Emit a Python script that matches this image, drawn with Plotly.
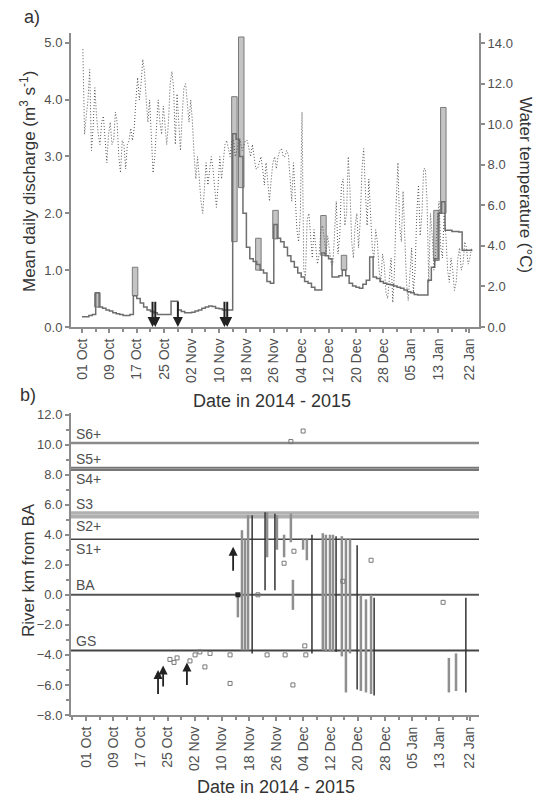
import plotly.graph_objects as go
import pandas as pd

# ---------------- data ----------------
start = pd.Timestamp("2014-10-01")

# panel a: mean daily discharge (m3/s), one value per day from 01 Oct 2014
discharge = [0.18, 0.18, 0.2, 0.22, 0.6, 0.35, 0.33, 0.3, 0.28, 0.25,
             0.23, 0.22, 0.2, 0.2, 0.22, 0.55, 0.5, 0.42, 0.35, 0.3,
             0.27, 0.25, 0.22, 0.22, 0.22, 0.22, 0.45, 0.45, 0.3, 0.27,
             0.25, 0.25, 0.26, 0.28, 0.3, 0.33, 0.35, 0.37, 0.36, 0.33,
             0.32, 0.3, 0.3, 0.3, 3.4, 3.3, 3.0, 2.0, 1.4, 1.2,
             1.15, 1.1, 1.0, 0.95, 0.8, 0.77, 1.8, 1.56, 1.5, 1.4,
             1.25, 1.15, 1.05, 0.95, 0.88, 0.8, 0.77, 0.7, 0.65, 0.65,
             1.3, 1.25, 1.2, 0.88, 0.88, 0.9, 1.0, 0.9, 0.77, 0.72,
             0.7, 0.68, 0.75, 0.82, 1.23, 0.88, 0.85, 0.8, 0.77, 0.75,
             0.74, 0.72, 0.7, 0.68, 0.65, 0.62, 0.6, 0.57, 0.56, 0.56,
             0.56, 0.82, 1.05, 1.2, 2.0, 2.2, 1.7, 1.7, 1.68, 1.68,
             1.67, 1.35, 1.35, 1.35]

# daily discharge peaks (bars): day index, low, high
peak_day = [4, 15, 44, 46, 51, 56, 70, 76, 103, 105]
peak_low = [0.35, 0.55, 1.5, 2.45, 1.0, 1.55, 1.26, 1.0, 1.17, 2.0]
peak_high = [0.6, 1.05, 4.05, 5.1, 1.56, 2.05, 1.96, 1.26, 2.05, 3.86]

# water temperature daily min / max (deg C)
temp_min = [9.5, 10.4, 8.7, 9.8, 9.5, 9.0, 9.2, 8.1, 9.0, 9.2,
            8.4, 7.6, 7.8, 9.0, 9.2, 9.8, 11.2, 12.0, 11.2, 10.1,
            7.6, 8.4, 10.1, 9.5, 9.0, 10.1, 11.8, 9.0, 8.7, 10.4,
            10.9, 10.1, 8.4, 7.3, 6.2, 5.6, 7.0, 7.6, 6.7, 5.9,
            7.3, 8.1, 8.7, 8.4, 8.4, 8.7, 8.7, 9.0, 8.7, 8.4,
            7.8, 7.8, 7.8, 7.0, 6.2, 7.3, 7.8, 8.4, 8.4, 8.4,
            7.3, 6.2, 4.8, 4.2, 2.8, 2.5, 4.2, 3.4, 3.1, 3.6,
            4.2, 3.6, 3.1, 3.1, 3.6, 4.5, 5.0, 5.6, 4.2, 3.4,
            3.9, 5.3, 6.7, 5.0, 3.9, 3.4, 2.8, 2.2, 1.7, 1.4,
            1.2, 2.8, 5.0, 4.2, 2.2, 1.3, 1.7, 2.8, 4.5, 5.6,
            6.2, 2.2, 2.8, 3.6, 3.9, 3.4, 2.8, 2.2, 1.8, 2.2,
            2.8, 3.1, 3.1, 3.4]
temp_max = [13.7, 11.2, 12.7, 11.8, 10.4, 10.1, 10.4, 9.5, 10.1, 10.6,
            10.1, 9.2, 9.0, 9.2, 9.8, 11.2, 12.3, 13.2, 12.6, 11.2,
            9.2, 10.1, 11.2, 10.9, 10.1, 12.0, 12.6, 11.5, 10.1, 11.8,
            12.0, 11.2, 10.1, 8.4, 7.3, 7.0, 8.1, 8.4, 7.8, 7.0,
            8.4, 9.0, 9.2, 9.2, 9.2, 9.2, 9.2, 9.2, 9.2, 9.0,
            8.4, 8.1, 8.4, 8.1, 7.0, 8.1, 8.4, 8.7, 8.8, 8.7,
            8.5, 8.1, 6.4, 5.6, 10.6, 5.3, 5.6, 4.8, 3.9, 4.8,
            5.0, 4.5, 3.9, 4.8, 6.2, 7.0, 7.3, 8.4, 6.7, 5.0,
            5.6, 7.8, 8.8, 7.3, 5.6, 4.8, 4.2, 3.6, 3.1, 2.5,
            3.4, 6.2, 8.1, 6.7, 4.5, 2.8, 3.9, 5.6, 7.0, 7.8,
            7.8, 5.6, 4.5, 5.3, 6.2, 5.6, 4.5, 3.4, 2.8, 3.4,
            3.9, 4.2, 3.9, 3.9]

# fish releases (days after 01 Oct), arrows in panel a
release_day = [20.6, 21.4, 28.0, 41.6, 42.4]

# panel b: detected ranges (river km from BA)
track_day = [44.7, 45.9, 46.8, 47.7, 48.9, 52.7, 53.3, 55.6, 56.2, 58.3,
             60.3, 60.9, 63.9, 65.0, 66.5, 69.7, 70.6, 71.8, 72.7, 73.6,
             75.3, 76.5, 77.7, 79.8, 80.9, 82.4, 83.9, 84.8, 106.8, 108.9,
             111.8]
track_low = [-1.5, -3.7, -3.7, -3.7, -3.9, 0.3, 2.5, 0.3, 3.0, 2.5,
             3.5, -1.0, 3.0, 2.3, -3.9, -3.7, -3.8, -3.8, -3.8, -3.8,
             -4.1, -6.5, -3.9, -6.3, -6.4, -6.5, -6.6, -6.7, -6.5, -6.4,
             -6.5]
track_high = [0.0, 4.3, 3.7, 5.3, 5.3, 5.5, 5.5, 5.4, 5.3, 4.0,
              5.4, 1.0, 3.7, 3.7, 4.0, 4.1, 4.0, 4.0, 4.0, 3.9,
              3.9, 3.7, 3.7, 3.3, 0.0, -0.3, 0.0, -0.2, -4.2, -3.9,
              -0.2]
track_dark = [0, 0, 0, 0, 1, 1, 0, 1, 0, 0,
              0, 0, 0, 0, 1, 0, 0, 0, 0, 1,
              0, 0, 0, 1, 0, 0, 0, 1, 0, 0,
              1]

# single detections
obs_day = [75.6, 83.9, 61.2, 58.3, 105.1, 63.9, 60.3, 42.4, 53.3, 50.6,
           58.6, 64.7, 64.4, 24.7, 25.9, 26.8, 30.6, 32.1, 33.5, 35.0,
           36.5, 60.9, 42.4]
obs_km = [0.9, 2.3, 2.9, 2.1, -0.5, 10.9, 10.2, -4.0, -4.0, 0.0,
          -4.0, -4.0, -3.4, -4.3, -4.5, -4.2, -4.4, -4.0, -3.8, -4.8,
          -3.9, -6.0, -5.9]

# upstream movements (arrows in panel b)
move_day = [21.2, 22.7, 29.7, 43.3]
move_from = [-6.7, -6.2, -6.1, 1.5]
move_to = [-5.0, -4.7, -4.5, 3.2]

# stations
station_name = ["S6+", "S5+", "S4+", "S3", "S2+", "S1+", "BA", "GS"]
station_km = [10.1, 8.45, 8.3, 5.45, 5.2, 3.7, 0.0, -3.7]

tick_dates = ["2014-10-01", "2014-10-09", "2014-10-17", "2014-10-25", "2014-11-02",
              "2014-11-10", "2014-11-18", "2014-11-26", "2014-12-04", "2014-12-12",
              "2014-12-20", "2014-12-28", "2015-01-05", "2015-01-13", "2015-01-22"]
tick_text = ["01 Oct", "09 Oct", "17 Oct", "25 Oct", "02 Nov", "10 Nov", "18 Nov",
             "26 Nov", "04 Dec", "12 Dec", "20 Dec", "28 Dec", "05 Jan", "13 Jan", "22 Jan"]

# ---------------- styling helpers ----------------
FONT = "Liberation Sans, Arial, sans-serif"
AX = "#8c8c8c"
TXT = "#505050"
DAY = pd.Timedelta(days=1)


def day(d):
    return start + pd.to_timedelta(d, unit="D")


dates = [day(i) for i in range(len(discharge))]

fig = go.Figure()

# temperature (dotted zig-zag between daily min and max)
tx, ty = [], []
for i, (lo, hi) in enumerate(zip(temp_min, temp_max)):
    a, b = (hi, lo) if i % 2 == 0 else (lo, hi)
    tx += [dates[i] + pd.Timedelta(hours=6), dates[i] + pd.Timedelta(hours=18)]
    ty += [a, b]
fig.add_trace(go.Scatter(x=tx, y=ty, mode="lines", xaxis="x", yaxis="y2",
                         line=dict(color="#555555", width=1, dash="1px,2px"),
                         showlegend=False, hoverinfo="skip"))

# discharge peaks as bars
fig.add_trace(go.Bar(x=[day(d) + pd.Timedelta(hours=12) for d in peak_day],
                     y=[h - l for h, l in zip(peak_high, peak_low)],
                     base=peak_low, width=1.6 * 86400000, xaxis="x", yaxis="y",
                     marker=dict(color="#c4c4c4", line=dict(color="#7a7a7a", width=1)),
                     showlegend=False))

# discharge step line
fig.add_trace(go.Scatter(x=dates + [dates[-1] + DAY], y=discharge + [discharge[-1]],
                         mode="lines", line=dict(color="#6e6e6e", width=1.5, shape="hv"),
                         xaxis="x", yaxis="y", showlegend=False))

# panel b tracks
for dark in (0, 1):
    xs, ys = [], []
    for d, lo, hi, k in zip(track_day, track_low, track_high, track_dark):
        if k == dark:
            xs += [day(d), day(d), None]
            ys += [lo, hi, None]
    fig.add_trace(go.Scatter(x=xs, y=ys, mode="lines", xaxis="x2", yaxis="y3",
                             line=dict(color="#333333" if dark else "#8f8f8f",
                                       width=1.5 if dark else 2.5),
                             showlegend=False))

fig.add_trace(go.Scatter(x=[day(d) for d in obs_day], y=obs_km, mode="markers",
                         xaxis="x2", yaxis="y3",
                         marker=dict(symbol="square-open", size=4, color="#777777",
                                     line=dict(width=1)),
                         showlegend=False))
fig.add_trace(go.Scatter(x=[day(track_day[0])], y=[0.0], mode="markers",
                         xaxis="x2", yaxis="y3",
                         marker=dict(symbol="square", size=5, color="#222222"),
                         showlegend=False))

# station lines
st_style = [("#8a8a8a", 2.5), ("#777777", 2), ("#777777", 2), ("#b0b0b0", 3.5),
            ("#b0b0b0", 3.5), ("#444444", 1.5), ("#555555", 2), ("#444444", 2)]
st_side = [1, 1, -1, 1, -1, -1, 1, 1]
shapes = []
annotations = []
for name, km, (col, w), side in zip(station_name, station_km, st_style, st_side):
    shapes.append(dict(type="line", xref="x2 domain", yref="y3", x0=0, x1=1,
                       y0=km, y1=km, line=dict(color=col, width=w), layer="below"))
    annotations.append(dict(text=name, xref="x2 domain", yref="y3", x=0.008,
                            y=km + 0.62 * side, xanchor="left", yanchor="middle",
                            showarrow=False, font=dict(size=14, color=TXT, family=FONT)))

# release arrows (panel a)
for d in release_day:
    annotations.append(dict(x=day(d), y=0.0, ax=day(d), ay=0.47, xref="x", yref="y",
                            axref="x", ayref="y", showarrow=True, arrowhead=2,
                            arrowsize=1, arrowwidth=2, arrowcolor="#222222", text=""))
# movement arrows (panel b)
for d, a, b in zip(move_day, move_from, move_to):
    annotations.append(dict(x=day(d), y=b, ax=day(d), ay=a, xref="x2", yref="y3",
                            axref="x2", ayref="y3", showarrow=True, arrowhead=2,
                            arrowsize=1, arrowwidth=1.8, arrowcolor="#222222", text=""))

# titles
L, R, T, B = 71, 63, 33, 83
W, H = 542, 798
pw, ph = W - L - R, H - T - B


def px(x):
    return (x - L) / pw


def py(y):
    return (H - B - y) / ph


def lab(text, x, y, size=18, angle=0, color="#333333"):
    annotations.append(dict(text=text, xref="paper", yref="paper", x=px(x), y=py(y),
                            xanchor="center", yanchor="middle", showarrow=False,
                            textangle=angle, font=dict(size=size, color=color, family=FONT)))


lab("a)", 32, 17, 18)
lab("b)", 28, 395, 18)
lab("Mean daily discharge (m<sup>3</sup> s<sup>-1</sup>)", 28, 182, 17, -90)
lab("Water temperature (°C)", 526, 185, 17, 90)
lab("Date in 2014 - 2015", 272, 401, 18)
lab("River km from BA", 28, 570, 17, -90)
lab("Date in 2014 - 2015", 276, 787, 18)

axis_common = dict(showline=True, linecolor=AX, linewidth=2, ticks="outside", ticklen=4,
                   tickwidth=1.5, tickcolor=AX, showgrid=False, zeroline=False,
                   tickfont=dict(size=13, color=TXT, family=FONT))
xcommon = dict(axis_common, type="date", tickmode="array", tickvals=tick_dates,
               ticktext=tick_text, tickangle=-90,
               tickfont=dict(size=14, color=TXT, family=FONT),
               minor=dict(ticks="outside", ticklen=3, tickcolor=AX,
                          dtick=4 * 86400000, tick0="2014-10-01"))

fig.update_layout(
    width=W, height=H, margin=dict(l=L, r=R, t=T, b=B),
    paper_bgcolor="white", plot_bgcolor="white",
    barmode="overlay", showlegend=False,
    xaxis=dict(xcommon, domain=[0, 1], anchor="y",
               range=["2014-09-27 19:00", "2015-01-24 22:00"]),
    yaxis=dict(axis_common, domain=[0.569, 1], anchor="x", range=[0, 5.17],
               tickvals=[0, 1, 2, 3, 4, 5], tickformat=".1f"),
    yaxis2=dict(axis_common, overlaying="y", side="right", anchor="x", range=[0, 14.5],
                tickvals=[0, 2, 4, 6, 8, 10, 12, 14], tickformat=".1f"),
    xaxis2=dict(xcommon, domain=[0, 1], anchor="y3",
                range=["2014-09-26 14:00", "2015-01-24 16:00"]),
    yaxis3=dict(axis_common, domain=[0, 0.4428], anchor="x2", range=[-8, 12.1],
                tickvals=list(range(-8, 13, 2)), tickformat=".1f",
                minor=dict(ticks="outside", ticklen=3, tickcolor=AX, dtick=1)),
    shapes=shapes, annotations=annotations,
    font=dict(family=FONT),
)

fig.write_html("out.html", config={"displayModeBar": False},
               post_script="document.body.style.margin='0px';"
                           "document.body.style.overflow='hidden';")
